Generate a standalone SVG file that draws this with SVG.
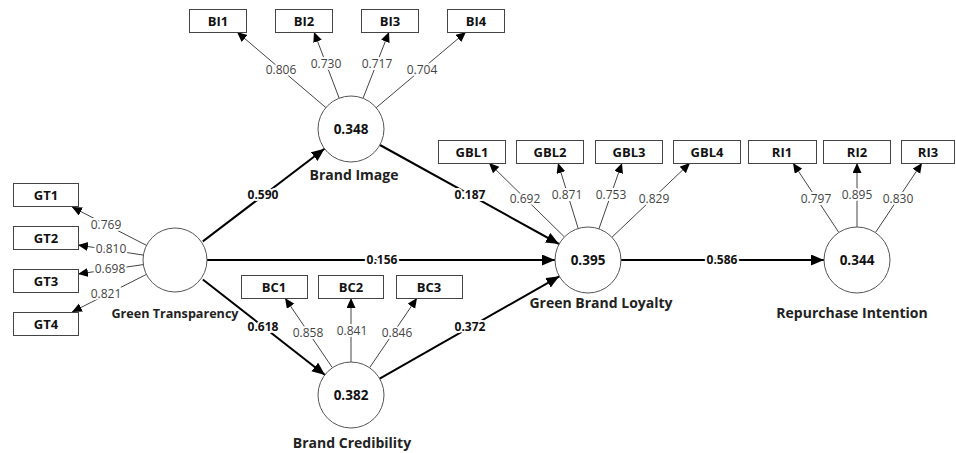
<svg xmlns="http://www.w3.org/2000/svg" width="956" height="453" viewBox="0 0 956 453">
<defs>
<marker id="ah" markerUnits="userSpaceOnUse" markerWidth="11" markerHeight="10" refX="10" refY="4.5" orient="auto"><path d="M0,0 L10,4.5 L0,9 z" fill="#000"/></marker>
<marker id="ahs" markerUnits="userSpaceOnUse" markerWidth="14" markerHeight="12" refX="13" refY="5.5" orient="auto"><path d="M0,0 L13,5.5 L0,11 z" fill="#000"/></marker>
</defs>
<style>
text{font-family:"Open Sans","Noto Sans","DejaVu Sans",sans-serif;text-anchor:middle}
.box{fill:#fff;stroke:#444;stroke-width:1}
.bl{font-size:13px;font-weight:bold;fill:#111}
.lv{fill:#fff;stroke:#555;stroke-width:1}
.val{font-size:13.5px;font-weight:bold;fill:#111}
.name{font-size:14px;font-weight:bold;fill:#222}
.ld{stroke:#444;stroke-width:1;fill:none}
.pth{stroke:#000;stroke-width:2;fill:none}
.lt{font-size:12px;fill:#444;paint-order:stroke;stroke:#fff;stroke-width:4px}
.pt{font-size:12px;font-weight:bold;fill:#111;paint-order:stroke;stroke:#fff;stroke-width:4px}
</style>
<rect width="956" height="453" fill="#fff"/>

<g id="connectors">
<line class="pth" x1="202.8" y1="241.4" x2="324.5" y2="148.7" marker-end="url(#ahs)"/>
<line class="pth" x1="207" y1="260" x2="555" y2="260" marker-end="url(#ahs)"/>
<line class="pth" x1="202.8" y1="279.5" x2="325" y2="375" marker-end="url(#ahs)"/>
<line class="pth" x1="380" y1="145" x2="559" y2="244" marker-end="url(#ahs)"/>
<line class="pth" x1="379.7" y1="378.7" x2="559.3" y2="276.3" marker-end="url(#ahs)"/>
<line class="pth" x1="621" y1="260" x2="824" y2="260" marker-end="url(#ahs)"/>

<line class="ld" x1="146.5" y1="245.4" x2="72" y2="207" marker-end="url(#ah)"/>
<line class="ld" x1="143.4" y1="255.1" x2="78" y2="245" marker-end="url(#ah)"/>
<line class="ld" x1="143.3" y1="264.6" x2="78" y2="274" marker-end="url(#ah)"/>
<line class="ld" x1="146.4" y1="274.4" x2="72" y2="312" marker-end="url(#ah)"/>

<line class="ld" x1="325.9" y1="107.6" x2="237" y2="32" marker-end="url(#ah)"/>
<line class="ld" x1="339.2" y1="98.2" x2="314" y2="32" marker-end="url(#ah)"/>
<line class="ld" x1="363" y1="98.3" x2="389" y2="32" marker-end="url(#ah)"/>
<line class="ld" x1="376.2" y1="107.7" x2="466" y2="32" marker-end="url(#ah)"/>

<line class="ld" x1="564.4" y1="236.9" x2="489" y2="163" marker-end="url(#ah)"/>
<line class="ld" x1="578.2" y1="228.5" x2="558" y2="163" marker-end="url(#ah)"/>
<line class="ld" x1="598.9" y1="228.9" x2="622" y2="163" marker-end="url(#ah)"/>
<line class="ld" x1="611.9" y1="237.3" x2="690" y2="163" marker-end="url(#ah)"/>

<line class="ld" x1="838.8" y1="232.4" x2="793" y2="163" marker-end="url(#ah)"/>
<line class="ld" x1="857" y1="227" x2="857" y2="163" marker-end="url(#ah)"/>
<line class="ld" x1="875.4" y1="232.6" x2="922" y2="163" marker-end="url(#ah)"/>

<line class="ld" x1="332.4" y1="367.7" x2="285" y2="298" marker-end="url(#ah)"/>
<line class="ld" x1="351" y1="362" x2="351" y2="298" marker-end="url(#ah)"/>
<line class="ld" x1="369.6" y1="367.7" x2="417" y2="298" marker-end="url(#ah)"/>

<text class="pt" x="263" y="199">0.590</text>
<text class="pt" x="470" y="199">0.187</text>
<text class="pt" x="382" y="264">0.156</text>
<text class="pt" x="263" y="331">0.618</text>
<text class="pt" x="470" y="331">0.372</text>
<text class="pt" x="722" y="264">0.586</text>

<text class="lt" x="106" y="229">0.769</text>
<text class="lt" x="111" y="253">0.810</text>
<text class="lt" x="110" y="273">0.698</text>
<text class="lt" x="106" y="298">0.821</text>

<text class="lt" x="281" y="74">0.806</text>
<text class="lt" x="326" y="68">0.730</text>
<text class="lt" x="377" y="68">0.717</text>
<text class="lt" x="422" y="74">0.704</text>

<text class="lt" x="525" y="203">0.692</text>
<text class="lt" x="567" y="199">0.871</text>
<text class="lt" x="611" y="199">0.753</text>
<text class="lt" x="654" y="203">0.829</text>

<text class="lt" x="816" y="203">0.797</text>
<text class="lt" x="857" y="199">0.895</text>
<text class="lt" x="898" y="203">0.830</text>

<text class="lt" x="308" y="337">0.858</text>
<text class="lt" x="352" y="335">0.841</text>
<text class="lt" x="397" y="337">0.846</text>
</g>

<g id="GT"><circle class="lv" cx="175" cy="260" r="32"/><text class="name" style="font-size:12.6px" x="175" y="318">Green Transparency</text></g>
<g id="BI"><circle class="lv" cx="351" cy="129" r="33"/><text class="val" x="351" y="134">0.348</text><text class="name" x="354" y="180">Brand Image</text></g>
<g id="GBL"><circle class="lv" cx="588" cy="260" r="33"/><text class="val" x="588" y="265">0.395</text><text class="name" x="601" y="308">Green Brand Loyalty</text></g>
<g id="RI"><circle class="lv" cx="857" cy="260" r="33"/><text class="val" x="857" y="265">0.344</text><text class="name" x="852" y="318">Repurchase Intention</text></g>
<g id="BC"><circle class="lv" cx="351" cy="395" r="33"/><text class="val" x="351" y="400">0.382</text><text class="name" x="352" y="448">Brand Credibility</text></g>

<g id="GT1"><rect class="box" x="13.5" y="183.5" width="65" height="23"/><text class="bl" x="46" y="199.5">GT1</text></g>
<g id="GT2"><rect class="box" x="13.5" y="226.5" width="65" height="23"/><text class="bl" x="46" y="242.5">GT2</text></g>
<g id="GT3"><rect class="box" x="13.5" y="269.5" width="65" height="23"/><text class="bl" x="46" y="285.5">GT3</text></g>
<g id="GT4"><rect class="box" x="13.5" y="312.5" width="65" height="23"/><text class="bl" x="46" y="328.5">GT4</text></g>

<g id="BI1"><rect class="box" x="189.5" y="9.5" width="57" height="23"/><text class="bl" x="218" y="25.5">BI1</text></g>
<g id="BI2"><rect class="box" x="275.5" y="9.5" width="57" height="23"/><text class="bl" x="304" y="25.5">BI2</text></g>
<g id="BI3"><rect class="box" x="361.5" y="9.5" width="57" height="23"/><text class="bl" x="390" y="25.5">BI3</text></g>
<g id="BI4"><rect class="box" x="447.5" y="9.5" width="57" height="23"/><text class="bl" x="476" y="25.5">BI4</text></g>

<g id="GBL1"><rect class="box" x="438.5" y="140.5" width="67" height="23"/><text class="bl" x="472" y="156.5">GBL1</text></g>
<g id="GBL2"><rect class="box" x="516.5" y="140.5" width="67" height="23"/><text class="bl" x="550" y="156.5">GBL2</text></g>
<g id="GBL3"><rect class="box" x="595.5" y="140.5" width="67" height="23"/><text class="bl" x="629" y="156.5">GBL3</text></g>
<g id="GBL4"><rect class="box" x="673.5" y="140.5" width="67" height="23"/><text class="bl" x="707" y="156.5">GBL4</text></g>

<g id="RI1"><rect class="box" x="748.5" y="140.5" width="68" height="23"/><text class="bl" x="782" y="156.5">RI1</text></g>
<g id="RI2"><rect class="box" x="823.5" y="140.5" width="67" height="23"/><text class="bl" x="857" y="156.5">RI2</text></g>
<g id="RI3"><rect class="box" x="901.5" y="140.5" width="53" height="23"/><text class="bl" x="928" y="156.5">RI3</text></g>

<g id="BC1"><rect class="box" x="241.5" y="275.5" width="66" height="23"/><text class="bl" x="274" y="291.5">BC1</text></g>
<g id="BC2"><rect class="box" x="318.5" y="275.5" width="65" height="23"/><text class="bl" x="351" y="291.5">BC2</text></g>
<g id="BC3"><rect class="box" x="396.5" y="275.5" width="66" height="23"/><text class="bl" x="429" y="291.5">BC3</text></g>
</svg>
